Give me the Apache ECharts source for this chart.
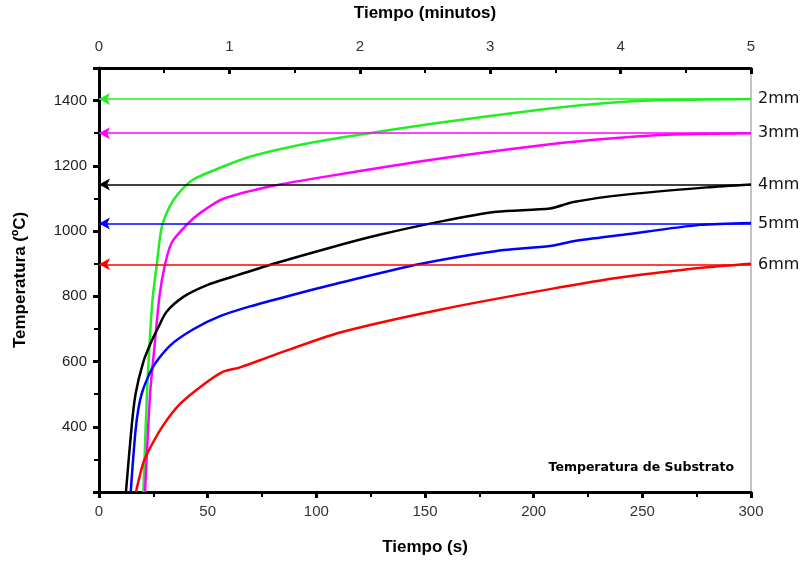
<!DOCTYPE html>
<html>
<head>
<meta charset="utf-8">
<script src="https://cdn.jsdelivr.net/npm/echarts@6/dist/echarts.min.js"></script>
<style>
  html, body { margin: 0; padding: 0; background: #fff; }
  #main { width: 809px; height: 561px; }
</style>
</head>
<body>
<div id="main"></div>
<script>
// curvas de temperatura del substrato (tiempo en s, temperatura en ºC)
var tiempo2mm = [20.4, 22.2, 24.5, 26.6, 28.8, 32.5, 36.5, 43.4, 57.2, 69.5, 87.9, 110.9, 152.3, 207.5, 233.6, 256.6, 300];
var temp2mm   = [200, 520, 780, 898, 1010, 1075, 1115, 1158, 1198, 1228, 1258, 1286, 1328, 1376, 1393, 1401, 1405];

var tiempo3mm = [21.2, 23.5, 25.6, 27.8, 30.4, 33.5, 40.3, 46.5, 57.2, 80.2, 107, 152.3, 207.5, 233.6, 264, 300];
var temp3mm   = [200, 500, 650, 799, 898, 965, 1019, 1055, 1099, 1139, 1170, 1218, 1266, 1283, 1296, 1300];

var tiempo4mm = [12.4, 15, 16.8, 20.4, 24, 27.3, 31, 39, 50, 61, 80, 106.3, 130, 156.9, 183, 207.5, 218.3, 241.3, 279.6, 300];
var temp4mm   = [200, 400, 500, 599, 660, 705, 752, 799, 835, 859, 899, 949, 990, 1029, 1059, 1069, 1089, 1111, 1134, 1143];

var tiempo5mm = [14.6, 17, 19.6, 25, 32.7, 43.4, 55.7, 69.5, 89.4, 106.3, 147.7, 183, 207.5, 218.3, 241.3, 276.5, 300];
var temp5mm   = [200, 400, 500, 585, 649, 699, 739, 769, 805, 834, 899, 939, 954, 969, 989, 1019, 1025];

var tiempo6mm = [17, 20.4, 23.5, 29.6, 37.3, 48, 57.2, 64.9, 80.2, 110.9, 156.9, 207.5, 241.3, 279.6, 300];
var temp6mm   = [200, 290, 335, 405, 470, 529, 569, 582, 619, 689, 759, 822, 859, 889, 900];

// temperaturas de referencia (líneas horizontales) y etiquetas
var espesores = ['2mm', '3mm', '4mm', '5mm', '6mm'];
var consignas = [1405, 1300, 1143, 1023, 898];
var colores   = ['#22ee22', '#ff00ff', '#000000', '#0000ff', '#ff0000'];

var tiempos = [tiempo2mm, tiempo3mm, tiempo4mm, tiempo5mm, tiempo6mm];
var temps   = [temp2mm, temp3mm, temp4mm, temp5mm, temp6mm];

function pares(t, v) {
  var out = [];
  for (var i = 0; i < t.length; i++) out.push([t[i], v[i]]);
  return out;
}

var series = [];
espesores.forEach(function (nombre, i) {
  series.push({
    name: nombre,
    type: 'line',
    xAxisIndex: 0,
    data: pares(tiempos[i], temps[i]),
    showSymbol: false,
    smooth: 0.25,
    clip: true,
    lineStyle: { color: colores[i], width: 2.5 },
    z: 3,
    markLine: {
      silent: true,
      symbol: ['arrow', 'none'],
      symbolSize: [9, 11],
      lineStyle: { color: colores[i], width: 1.5, type: 'solid' },
      label: {
        show: true,
        position: 'end',
        formatter: nombre,
        color: '#111',
        fontFamily: 'DejaVu Sans, sans-serif',
        fontSize: 16,
        distance: 7
      },
      data: [[{ coord: [0, consignas[i]] }, { coord: [300, consignas[i]] }]]
    }
  });
});

var chart = echarts.init(document.getElementById('main'));
var tickFont = 'Liberation Sans Narrow, Arial Narrow, Liberation Sans, sans-serif';
var option = {
  animation: false,
  backgroundColor: '#fff',
  grid: {
    left: 99, right: 58, top: 66, bottom: 61,
    show: true, borderColor: '#888', borderWidth: 1, backgroundColor: 'transparent'
  },
  title: {
    text: 'Temperatura de Substrato',
    right: 70, bottom: 82,
    textStyle: { fontFamily: 'DejaVu Sans, sans-serif', fontSize: 12.5, fontWeight: 'bold', color: '#000' }
  },
  xAxis: [{
    type: 'value', position: 'bottom', min: 0, max: 300, interval: 50,
    name: 'Tiempo (s)', nameLocation: 'middle', nameGap: 47,
    nameTextStyle: { fontFamily: 'Liberation Sans, Arial, sans-serif', fontSize: 17, fontWeight: 'bold', color: '#000' },
    axisLine: { lineStyle: { color: '#000', width: 3 } },
    axisTick: { inside: false, length: 6, lineStyle: { color: '#000', width: 3 } },
    minorTick: { show: true, splitNumber: 2, length: 5, lineStyle: { color: '#000', width: 2 } },
    axisLabel: { margin: 12, fontFamily: tickFont, fontSize: 15, color: '#333' },
    splitLine: { show: false }
  }, {
    type: 'value', position: 'top', min: 0, max: 5, interval: 1,
    name: 'Tiempo (minutos)', nameLocation: 'middle', nameGap: 46,
    nameTextStyle: { fontFamily: 'Liberation Sans, Arial, sans-serif', fontSize: 17, fontWeight: 'bold', color: '#000' },
    axisLine: { lineStyle: { color: '#000', width: 3 } },
    axisTick: { inside: true, length: 6, lineStyle: { color: '#000', width: 3 } },
    minorTick: { show: true, splitNumber: 2, length: 5, lineStyle: { color: '#000', width: 2 } },
    axisLabel: { margin: 14, fontFamily: tickFont, fontSize: 15, color: '#333' },
    splitLine: { show: false }
  }],
  yAxis: {
    type: 'value', min: 200, max: 1500, interval: 200,
    name: 'Temperatura (ºC)', nameLocation: 'middle', nameGap: 70,
    nameTextStyle: { fontFamily: 'Liberation Sans, Arial, sans-serif', fontSize: 17, fontWeight: 'bold', color: '#000' },
    axisLine: { lineStyle: { color: '#000', width: 3 } },
    axisTick: { inside: false, length: 6, lineStyle: { color: '#000', width: 3 } },
    minorTick: { show: true, splitNumber: 2, length: 5, lineStyle: { color: '#000', width: 2 } },
    axisLabel: {
      margin: 12, showMinLabel: false, showMaxLabel: false,
      fontFamily: 'Liberation Sans, Arial, sans-serif', fontSize: 15, color: '#222',
      formatter: function (v) { return String(v); }
    },
    splitLine: { show: false }
  },
  series: series
};
chart.setOption(option);
</script>
</body>
</html>
